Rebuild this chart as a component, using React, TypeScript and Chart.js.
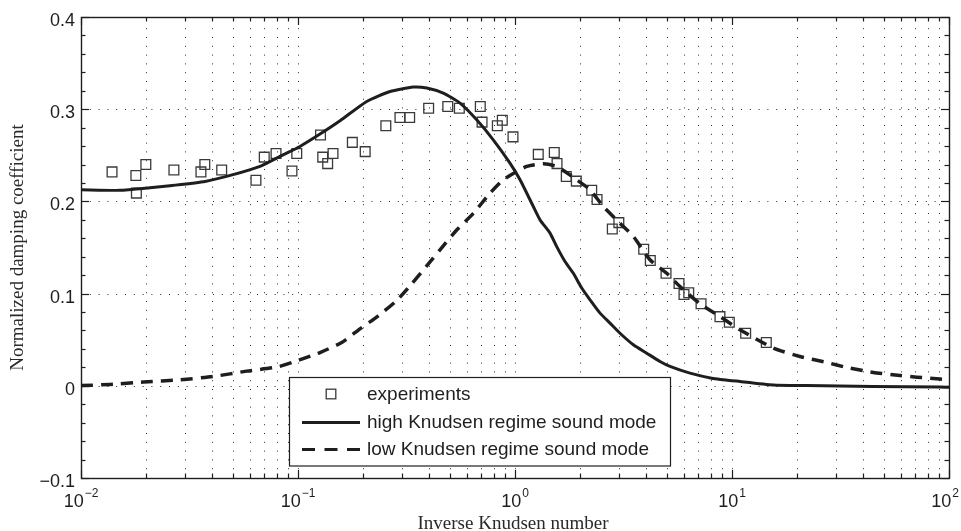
import React, { useEffect, useRef } from "react";
import { Chart, registerables } from "chart.js";

Chart.register(...registerables);

// ---- data ----
const expX = [0.0139, 0.0179, 0.018, 0.0199, 0.0268, 0.0357, 0.0372, 0.0445, 0.064, 0.0699, 0.0792, 0.0938, 0.0987, 0.127, 0.13, 0.137, 0.145, 0.178, 0.204, 0.254, 0.295, 0.327, 0.4, 0.49, 0.554, 0.692, 0.705, 0.829, 0.874, 0.979, 1.28, 1.517, 1.562, 1.723, 1.917, 2.257, 2.388, 2.808, 3.01, 3.918, 4.203, 4.965, 5.7, 6.008, 6.318, 7.2, 8.8, 9.72, 11.56, 14.39];
const expY = [0.232, 0.228, 0.209, 0.24, 0.234, 0.232, 0.24, 0.234, 0.223, 0.248, 0.252, 0.233, 0.252, 0.272, 0.248, 0.241, 0.252, 0.264, 0.254, 0.282, 0.291, 0.291, 0.301, 0.303, 0.301, 0.303, 0.286, 0.282, 0.288, 0.27, 0.251, 0.253, 0.241, 0.227, 0.222, 0.212, 0.202, 0.17, 0.177, 0.148, 0.136, 0.122, 0.111, 0.099, 0.101, 0.089, 0.075, 0.069, 0.057, 0.047];

const highX = [0.01, 0.0151, 0.0208, 0.0257, 0.0373, 0.0502, 0.0668, 0.0853, 0.1021, 0.1263, 0.1562, 0.2073, 0.2655, 0.34, 0.392, 0.467, 0.558, 0.666, 0.794, 0.948, 1.055, 1.214, 1.304, 1.45, 1.557, 1.7, 1.857, 2.03, 2.216, 2.465, 2.74, 3.047, 3.51, 4.046, 4.659, 5.181, 6.405, 8.061, 10.89, 15.5, 22.09, 44.65, 90.88, 100];
const highY = [0.2126, 0.212, 0.2148, 0.217, 0.2216, 0.229, 0.238, 0.2505, 0.2596, 0.273, 0.2874, 0.3084, 0.3192, 0.324, 0.3229, 0.3174, 0.3066, 0.2885, 0.2668, 0.2415, 0.2234, 0.1945, 0.18, 0.1656, 0.151, 0.1348, 0.122, 0.106, 0.0933, 0.0788, 0.068, 0.057, 0.0445, 0.0354, 0.0264, 0.021, 0.0137, 0.0083, 0.0047, 0.001, 0.0003, -0.0007, -0.0014, -0.0015];

const lowX = [0.01, 0.0136, 0.0194, 0.0286, 0.0407, 0.058, 0.0798, 0.0951, 0.1263, 0.159, 0.1931, 0.2345, 0.285, 0.3342, 0.3918, 0.4513, 0.5387, 0.6426, 0.7673, 0.8833, 1.132, 1.35, 1.557, 1.925, 2.216, 2.552, 3.047, 3.51, 4.19, 5.002, 5.76, 7.121, 8.805, 10.89, 15.5, 20.58, 27.32, 33.78, 44.79, 59.46, 71.02, 90.88, 100];
const lowY = [0.0003, 0.0014, 0.004, 0.0065, 0.0101, 0.0159, 0.0203, 0.0257, 0.0361, 0.047, 0.0618, 0.0759, 0.0925, 0.1106, 0.13, 0.1475, 0.169, 0.187, 0.209, 0.2234, 0.2379, 0.2408, 0.2379, 0.2234, 0.2126, 0.1945, 0.1764, 0.162, 0.1367, 0.122, 0.1077, 0.0889, 0.0752, 0.0607, 0.0409, 0.0318, 0.0253, 0.0199, 0.0145, 0.0112, 0.0094, 0.0073, 0.0068];

const xDecades = [0.01, 0.1, 1, 10, 100];
const xExponents = ["\u22122", "\u22121", "0", "1", "2"];
const yTicks = [-0.1, 0, 0.1, 0.2, 0.3, 0.4];
const yTickLabels = ["\u22120.1", "0", "0.1", "0.2", "0.3", "0.4"];
const yMinorStep = 0.02;

const seriesLabels = ["experiments", "high Knudsen regime sound mode", "low Knudsen regime sound mode"];
const xTitle = "Inverse Knudsen number";
const yTitle = "Normalized damping coefficient";

const pts = (xs: number[], ys: number[]) => xs.map((v, i) => ({ x: v, y: ys[i] }));

const SANS = "'Liberation Sans', Arial, sans-serif";
const SERIF = "'Liberation Serif', 'Times New Roman', serif";
const INK = "#1e1e1e";
const DASH = [12, 8];

function xMinorValues(): number[] {
  const out: number[] = [];
  for (let i = 0; i < xDecades.length - 1; i++) {
    for (let k = 2; k <= 9; k++) out.push(xDecades[i] * k);
  }
  return out;
}

function yMinorValues(): number[] {
  const out: number[] = [];
  const lo = yTicks[0];
  const hi = yTicks[yTicks.length - 1];
  const n = Math.round((hi - lo) / yMinorStep);
  for (let i = 0; i <= n; i++) out.push(lo + i * yMinorStep);
  return out;
}

const framePlugin = {
  id: "matlabFrame",
  beforeDatasetsDraw(chart: any) {
    const { ctx, chartArea: a, scales } = chart;
    const xs = scales.x;
    const ys = scales.y;
    ctx.save();
    ctx.strokeStyle = "#2a2a2a";
    ctx.lineWidth = 1;
    ctx.setLineDash([1, 7.8]);
    const gx = [...xDecades.slice(1, -1), ...xMinorValues()];
    gx.forEach((v) => {
      const p = Math.round(xs.getPixelForValue(v)) + 0.5;
      ctx.beginPath();
      ctx.moveTo(p, a.bottom);
      ctx.lineTo(p, a.top);
      ctx.stroke();
    });
    yTicks.slice(1, -1).forEach((v) => {
      const p = Math.round(ys.getPixelForValue(v)) + 0.5;
      ctx.beginPath();
      ctx.moveTo(a.left, p);
      ctx.lineTo(a.right, p);
      ctx.stroke();
    });
    ctx.restore();
  },
  afterDatasetsDraw(chart: any) {
    const { ctx, chartArea: a, scales, width } = chart;
    const xs = scales.x;
    const ys = scales.y;
    ctx.save();
    ctx.setLineDash([]);
    ctx.strokeStyle = INK;
    ctx.lineWidth = 1.2;

    const seg = (x1: number, y1: number, x2: number, y2: number) => {
      ctx.beginPath();
      ctx.moveTo(x1, y1);
      ctx.lineTo(x2, y2);
      ctx.stroke();
    };
    const MAJ = 8;
    const MIN = 4.5;
    xDecades.forEach((v) => {
      const p = Math.round(xs.getPixelForValue(v)) + 0.5;
      seg(p, a.bottom, p, a.bottom - MAJ);
      seg(p, a.top, p, a.top + MAJ);
    });
    xMinorValues().forEach((v) => {
      const p = Math.round(xs.getPixelForValue(v)) + 0.5;
      seg(p, a.bottom, p, a.bottom - MIN);
      seg(p, a.top, p, a.top + MIN);
    });
    yMinorValues().forEach((v) => {
      const p = Math.round(ys.getPixelForValue(v)) + 0.5;
      const isMajor = yTicks.some((t) => Math.abs(t - v) < 1e-9);
      const L = isMajor ? MAJ : MIN;
      seg(a.left, p, a.left + L, p);
      seg(a.right, p, a.right - L, p);
    });

    // frame
    ctx.lineWidth = 1.4;
    ctx.strokeRect(Math.round(a.left) + 0.5, Math.round(a.top) + 0.5, Math.round(a.right - a.left), Math.round(a.bottom - a.top));

    // y tick labels
    ctx.fillStyle = INK;
    ctx.font = `18px ${SANS}`;
    ctx.textAlign = "right";
    ctx.textBaseline = "alphabetic";
    yTicks.forEach((v, i) => {
      const p = ys.getPixelForValue(v);
      ctx.fillText(yTickLabels[i], a.left - 6, p + 9);
    });

    // x tick labels with superscript exponents
    xDecades.forEach((v, i) => {
      const p = xs.getPixelForValue(v);
      ctx.font = `18px ${SANS}`;
      const wb = ctx.measureText("10").width;
      ctx.font = `12px ${SANS}`;
      const we = ctx.measureText(xExponents[i]).width;
      const total = wb + 1 + we;
      let start = p - total / 2;
      if (start + total > width - 2) start = width - 2 - total;
      ctx.textAlign = "left";
      ctx.font = `18px ${SANS}`;
      ctx.fillText("10", start, a.bottom + 29);
      ctx.font = `12px ${SANS}`;
      ctx.fillText(xExponents[i], start + wb + 1, a.bottom + 19);
    });

    // axis titles
    ctx.fillStyle = "#2a2a2a";
    ctx.font = `19px ${SERIF}`;
    ctx.textAlign = "center";
    ctx.fillText(xTitle, (a.left + a.right) / 2 - 2, a.bottom + 51);
    ctx.save();
    ctx.translate(22.5, (a.top + a.bottom) / 2);
    ctx.rotate(-Math.PI / 2);
    ctx.fillText(yTitle, 0, 0);
    ctx.restore();

    // legend
    const lx = 289.5, ly = 377.5, lw = 381, lh = 88.5;
    ctx.fillStyle = "#ffffff";
    ctx.fillRect(lx, ly, lw, lh);
    ctx.lineWidth = 1.2;
    ctx.strokeStyle = INK;
    ctx.strokeRect(lx, ly, lw, lh);
    ctx.strokeStyle = "#3a3a3a";
    ctx.lineWidth = 1.3;
    ctx.strokeRect(331 - 4.8, 394 - 4.8, 9.6, 9.6);
    ctx.strokeStyle = INK;
    ctx.lineWidth = 3;
    seg(302, 422.5, 360, 422.5);
    ctx.setLineDash([13, 9.5]);
    seg(302, 449.5, 360, 449.5);
    ctx.setLineDash([]);
    ctx.fillStyle = INK;
    ctx.font = `19px ${SANS}`;
    ctx.textAlign = "left";
    ctx.fillText(seriesLabels[0], 367, 400);
    ctx.fillText(seriesLabels[1], 367, 428);
    ctx.fillText(seriesLabels[2], 367, 455);
    ctx.restore();
  },
};

export default function App() {
  const ref = useRef<HTMLCanvasElement | null>(null);
  useEffect(() => {
    document.body.style.margin = "0";
    document.body.style.overflow = "hidden";
    document.documentElement.style.overflow = "hidden";
    if (!ref.current) return;
    const chart = new Chart(ref.current, {
      type: "scatter",
      data: {
        datasets: [
          {
            type: "line",
            label: seriesLabels[1],
            data: pts(highX, highY),
            borderColor: INK,
            borderWidth: 3,
            pointRadius: 0,
            tension: 0.2,
            fill: false,
            order: 1,
          } as any,
          {
            type: "line",
            label: seriesLabels[2],
            data: pts(lowX, lowY),
            borderColor: INK,
            borderWidth: 3.5,
            borderDash: DASH,
            pointRadius: 0,
            tension: 0.2,
            fill: false,
            order: 1,
          } as any,
          {
            type: "scatter",
            label: seriesLabels[0],
            data: pts(expX, expY),
            pointStyle: "rect",
            pointRadius: 6.9,
            pointBackgroundColor: "rgba(255,255,255,0)",
            pointBorderColor: "#3a3a3a",
            pointBorderWidth: 1.3,
            order: 2,
          } as any,
        ],
      },
      options: {
        animation: false,
        responsive: true,
        maintainAspectRatio: false,
        layout: { padding: { left: 0, top: 17, right: 12, bottom: 0 } },
        plugins: { legend: { display: false }, tooltip: { enabled: false } },
        scales: {
          x: {
            type: "logarithmic",
            min: 0.01,
            max: 100,
            ticks: { display: false },
            grid: { display: false },
            border: { display: false },
            afterFit: (s: any) => {
              s.height = 53;
            },
          },
          y: {
            type: "linear",
            min: -0.1,
            max: 0.4,
            ticks: { display: false },
            grid: { display: false },
            border: { display: false },
            afterFit: (s: any) => {
              s.width = 81;
            },
          },
        },
      } as any,
      plugins: [framePlugin],
    });
    return () => chart.destroy();
  }, []);
  return (
    <div style={{ width: 961, height: 531, position: "relative", background: "#fff" }}>
      <canvas ref={ref} />
    </div>
  );
}
